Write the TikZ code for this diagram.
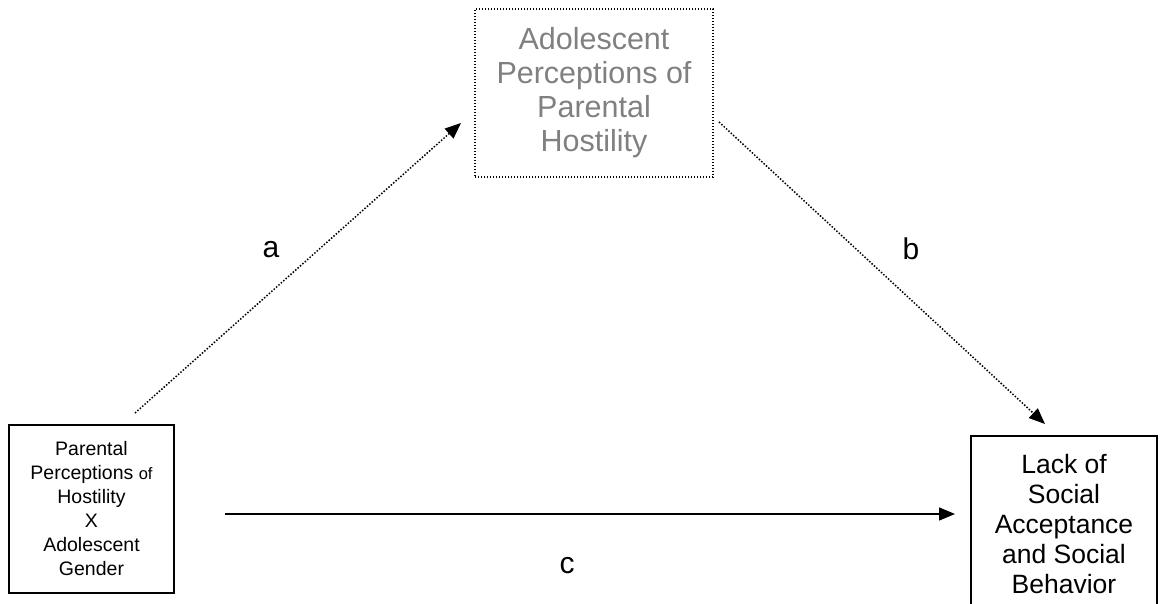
\documentclass[tikz,border=0pt]{standalone}
\usepackage{fontspec}
\setmainfont{Liberation Sans}
\usetikzlibrary{arrows.meta,calc}
\definecolor{greytext}{HTML}{808080}
\begin{document}
\begin{tikzpicture}[x=1pt,y=-1pt,
  solidbox/.style={draw=black,line width=1.4pt,inner sep=0pt,align=center},
  dotbox/.style={draw=black,line width=1.4pt,dash pattern=on 1.4pt off 1.6pt,inner sep=0pt,align=center},
  dotarrow/.style={line width=1.5pt,dash pattern=on 1.5pt off 1.7pt,-{Triangle[length=16pt,width=13pt]}},
  solidarrow/.style={line width=1.5pt,-{Triangle[length=16pt,width=13pt]}},
  lbl/.style={font=\fontsize{30}{32}\selectfont}
]
\useasboundingbox (0,0) rectangle (1163,604);
\node[dotbox,minimum width=238pt,minimum height=168pt,text=greytext,font=\fontsize{30.5}{34}\selectfont] (med) at (594,93)
  {Adolescent\\Perceptions of\\Parental\\Hostility};
\node[solidbox,minimum width=165pt,minimum height=168pt,font=\fontsize{19.5}{24}\selectfont] (iv) at (91.5,509)
  {Parental\\Perceptions {\fontsize{16.5}{24}\selectfont of}\\Hostility\\X\\Adolescent\\Gender};
\node[solidbox,minimum width=186pt,minimum height=176pt,font=\fontsize{26.5}{30}\selectfont] (dv) at (1064,524)
  {Lack of\\Social\\Acceptance\\and Social\\Behavior};
\coordinate (a0) at (135,413);
\coordinate (a1) at (461,123);
\coordinate (b0) at (719,122);
\coordinate (b1) at (1045,424);
\coordinate (c0) at (225,514);
\coordinate (c1) at (955,514);
\draw[dotarrow] (a0) -- (a1);
\draw[dotarrow] (b0) -- (b1);
\draw[solidarrow] (c0) -- (c1);
\node[lbl] (la) at (271,250) {a};
\node[lbl] (lb) at (911,249) {b};
\node[lbl] (lc) at (567,566) {c};
\end{tikzpicture}
\end{document}
